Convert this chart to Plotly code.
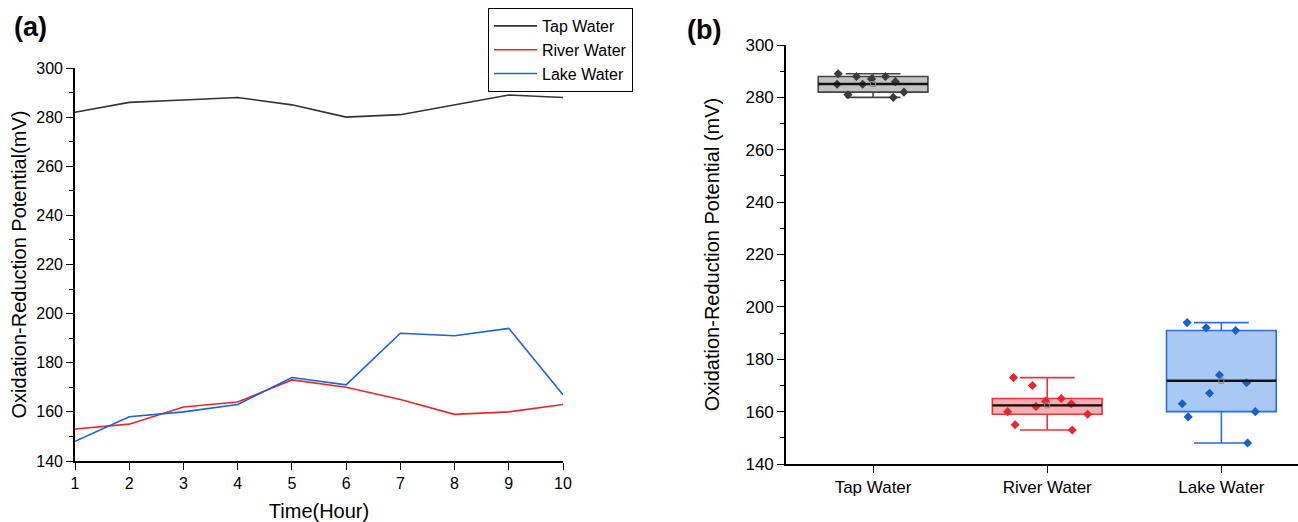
import numpy as np
import plotly.graph_objects as go

# ---------------- data ----------------
hours = [1, 2, 3, 4, 5, 6, 7, 8, 9, 10]
tap_water = [282, 286, 287, 288, 285, 280, 281, 285, 289, 288]
river_water = [153, 155, 162, 164, 173, 170, 165, 159, 160, 163]
lake_water = [148, 158, 160, 163, 174, 171, 192, 191, 194, 167]
series_names = ["Tap Water", "River Water", "Lake Water"]
y_ticks = [140, 160, 180, 200, 220, 240, 260, 280, 300]

series = [tap_water, river_water, lake_water]
line_colors = ["#333333", "#e8262b", "#1a63d6"]
box_fill = ["#c2c2c2", "#f6b0b1", "#a9c9f5"]
box_line = ["#444444", "#e8343a", "#2a6fd6"]
pt_colors = ["#3a3a3a", "#e8262b", "#1560d0"]

FONT = "Liberation Sans, Arial, sans-serif"
W, H = 1298, 522

fig = go.Figure()

# ---------------- panel (a): line chart ----------------
for name, vals, c in zip(series_names, series, line_colors):
    fig.add_trace(go.Scatter(x=hours, y=vals, mode="lines", name=name,
                             line=dict(color=c, width=1.6),
                             xaxis="x", yaxis="y", showlegend=True))

# ---------------- panel (b): box plots ----------------
BOX_W = 0.63


def halves_median(v):
    s = np.sort(np.asarray(v, dtype=float))
    n = len(s)
    lo = s[: n // 2]
    hi = s[(n + 1) // 2:]
    return float(np.median(lo)), float(np.median(hi))


for i, (vals, fc, lc, pc) in enumerate(zip(series, box_fill, box_line, pt_colors)):
    q1, q3 = halves_median(vals)
    mean = float(np.mean(vals))
    # box body (center line drawn at the mean, as in the reference)
    fig.add_trace(go.Box(x=[i], q1=[q1], median=[mean], q3=[q3],
                         lowerfence=[float(np.min(vals))], upperfence=[float(np.max(vals))],
                         width=BOX_W, whiskerwidth=0.5, fillcolor=fc,
                         line=dict(color=lc, width=1.6), boxpoints=False,
                         xaxis="x2", yaxis="y2", showlegend=False, hoverinfo="skip"))
    # jittered sample points
    fig.add_trace(go.Box(y=vals, x0=i, width=BOX_W, boxpoints="all", jitter=0.95,
                         pointpos=0, fillcolor="rgba(0,0,0,0)",
                         line=dict(color="rgba(0,0,0,0)", width=0),
                         marker=dict(symbol="diamond", size=7, color=pc),
                         xaxis="x2", yaxis="y2", showlegend=False))
    # black center line
    fig.add_trace(go.Scatter(x=[i - BOX_W / 2, i + BOX_W / 2], y=[mean, mean],
                             mode="lines", line=dict(color="#111111", width=2.4),
                             xaxis="x2", yaxis="y2", showlegend=False, hoverinfo="skip"))
    # mean marker
    fig.add_trace(go.Scatter(x=[i], y=[mean], mode="markers",
                             marker=dict(symbol="square-open", size=5, color="#888888",
                                         line=dict(width=1)),
                             xaxis="x2", yaxis="y2", showlegend=False, hoverinfo="skip"))

axis_common = dict(showline=True, linecolor="black", linewidth=1.6, ticks="outside",
                   ticklen=7, tickwidth=1.4, tickcolor="black", showgrid=False,
                   zeroline=False, mirror=False, automargin=False,
                   tickfont=dict(family=FONT, size=16, color="black"))

fig.update_layout(
    width=W, height=H,
    margin=dict(l=0, r=0, t=0, b=0, autoexpand=False),
    paper_bgcolor="white", plot_bgcolor="white",
    boxmode="overlay",
    font=dict(family=FONT, color="black"),
    xaxis=dict(domain=[75 / W, 563 / W], range=[1, 10], tickmode="array",
               tickvals=hours, anchor="y",
               title=dict(text="Time(Hour)", font=dict(family=FONT, size=20)),
               **axis_common),
    yaxis=dict(domain=[1 - 461 / H, 1 - 68 / H], range=[140, 300], tickmode="array",
               tickvals=y_ticks, anchor="x",
               minor=dict(dtick=10, ticks="outside", ticklen=4, tickwidth=1.2, tickcolor="black"),
               title=dict(text="Oxidation-Reduction Potential(mV)",
                          font=dict(family=FONT, size=20), standoff=4),
               **axis_common),
    xaxis2=dict(domain=[786 / W, 1.0], range=[-0.5, 2.44], tickmode="array",
                tickvals=[0, 1, 2], ticktext=series_names, anchor="y2",
                **{**axis_common, "tickfont": dict(family=FONT, size=17, color="black")}),
    yaxis2=dict(domain=[1 - 464 / H, 1 - 45 / H], range=[140, 300], tickmode="array",
                tickvals=y_ticks, anchor="x2",
                minor=dict(dtick=10, ticks="outside", ticklen=4, tickwidth=1.2, tickcolor="black"),
                title=dict(text="Oxidation-Reduction Potential (mV)",
                           font=dict(family=FONT, size=20), standoff=20),
                **{**axis_common, "tickfont": dict(family=FONT, size=17, color="black")}),
    legend=dict(x=488 / W, y=1 - 8 / H, xanchor="left", yanchor="top",
                bordercolor="black", borderwidth=1, bgcolor="white",
                font=dict(family=FONT, size=16, color="black"),
                itemwidth=43, tracegroupgap=0),
    annotations=[
        dict(text="<b>(a)</b>", x=12 / W, y=1 - 27 / H, xref="paper", yref="paper",
             xanchor="left", yanchor="middle", showarrow=False,
             font=dict(family=FONT, size=27, color="black")),
        dict(text="<b>(b)</b>", x=685 / W, y=1 - 30 / H, xref="paper", yref="paper",
             xanchor="left", yanchor="middle", showarrow=False,
             font=dict(family=FONT, size=27, color="black")),
    ],
)

fig.write_html("out.html")
